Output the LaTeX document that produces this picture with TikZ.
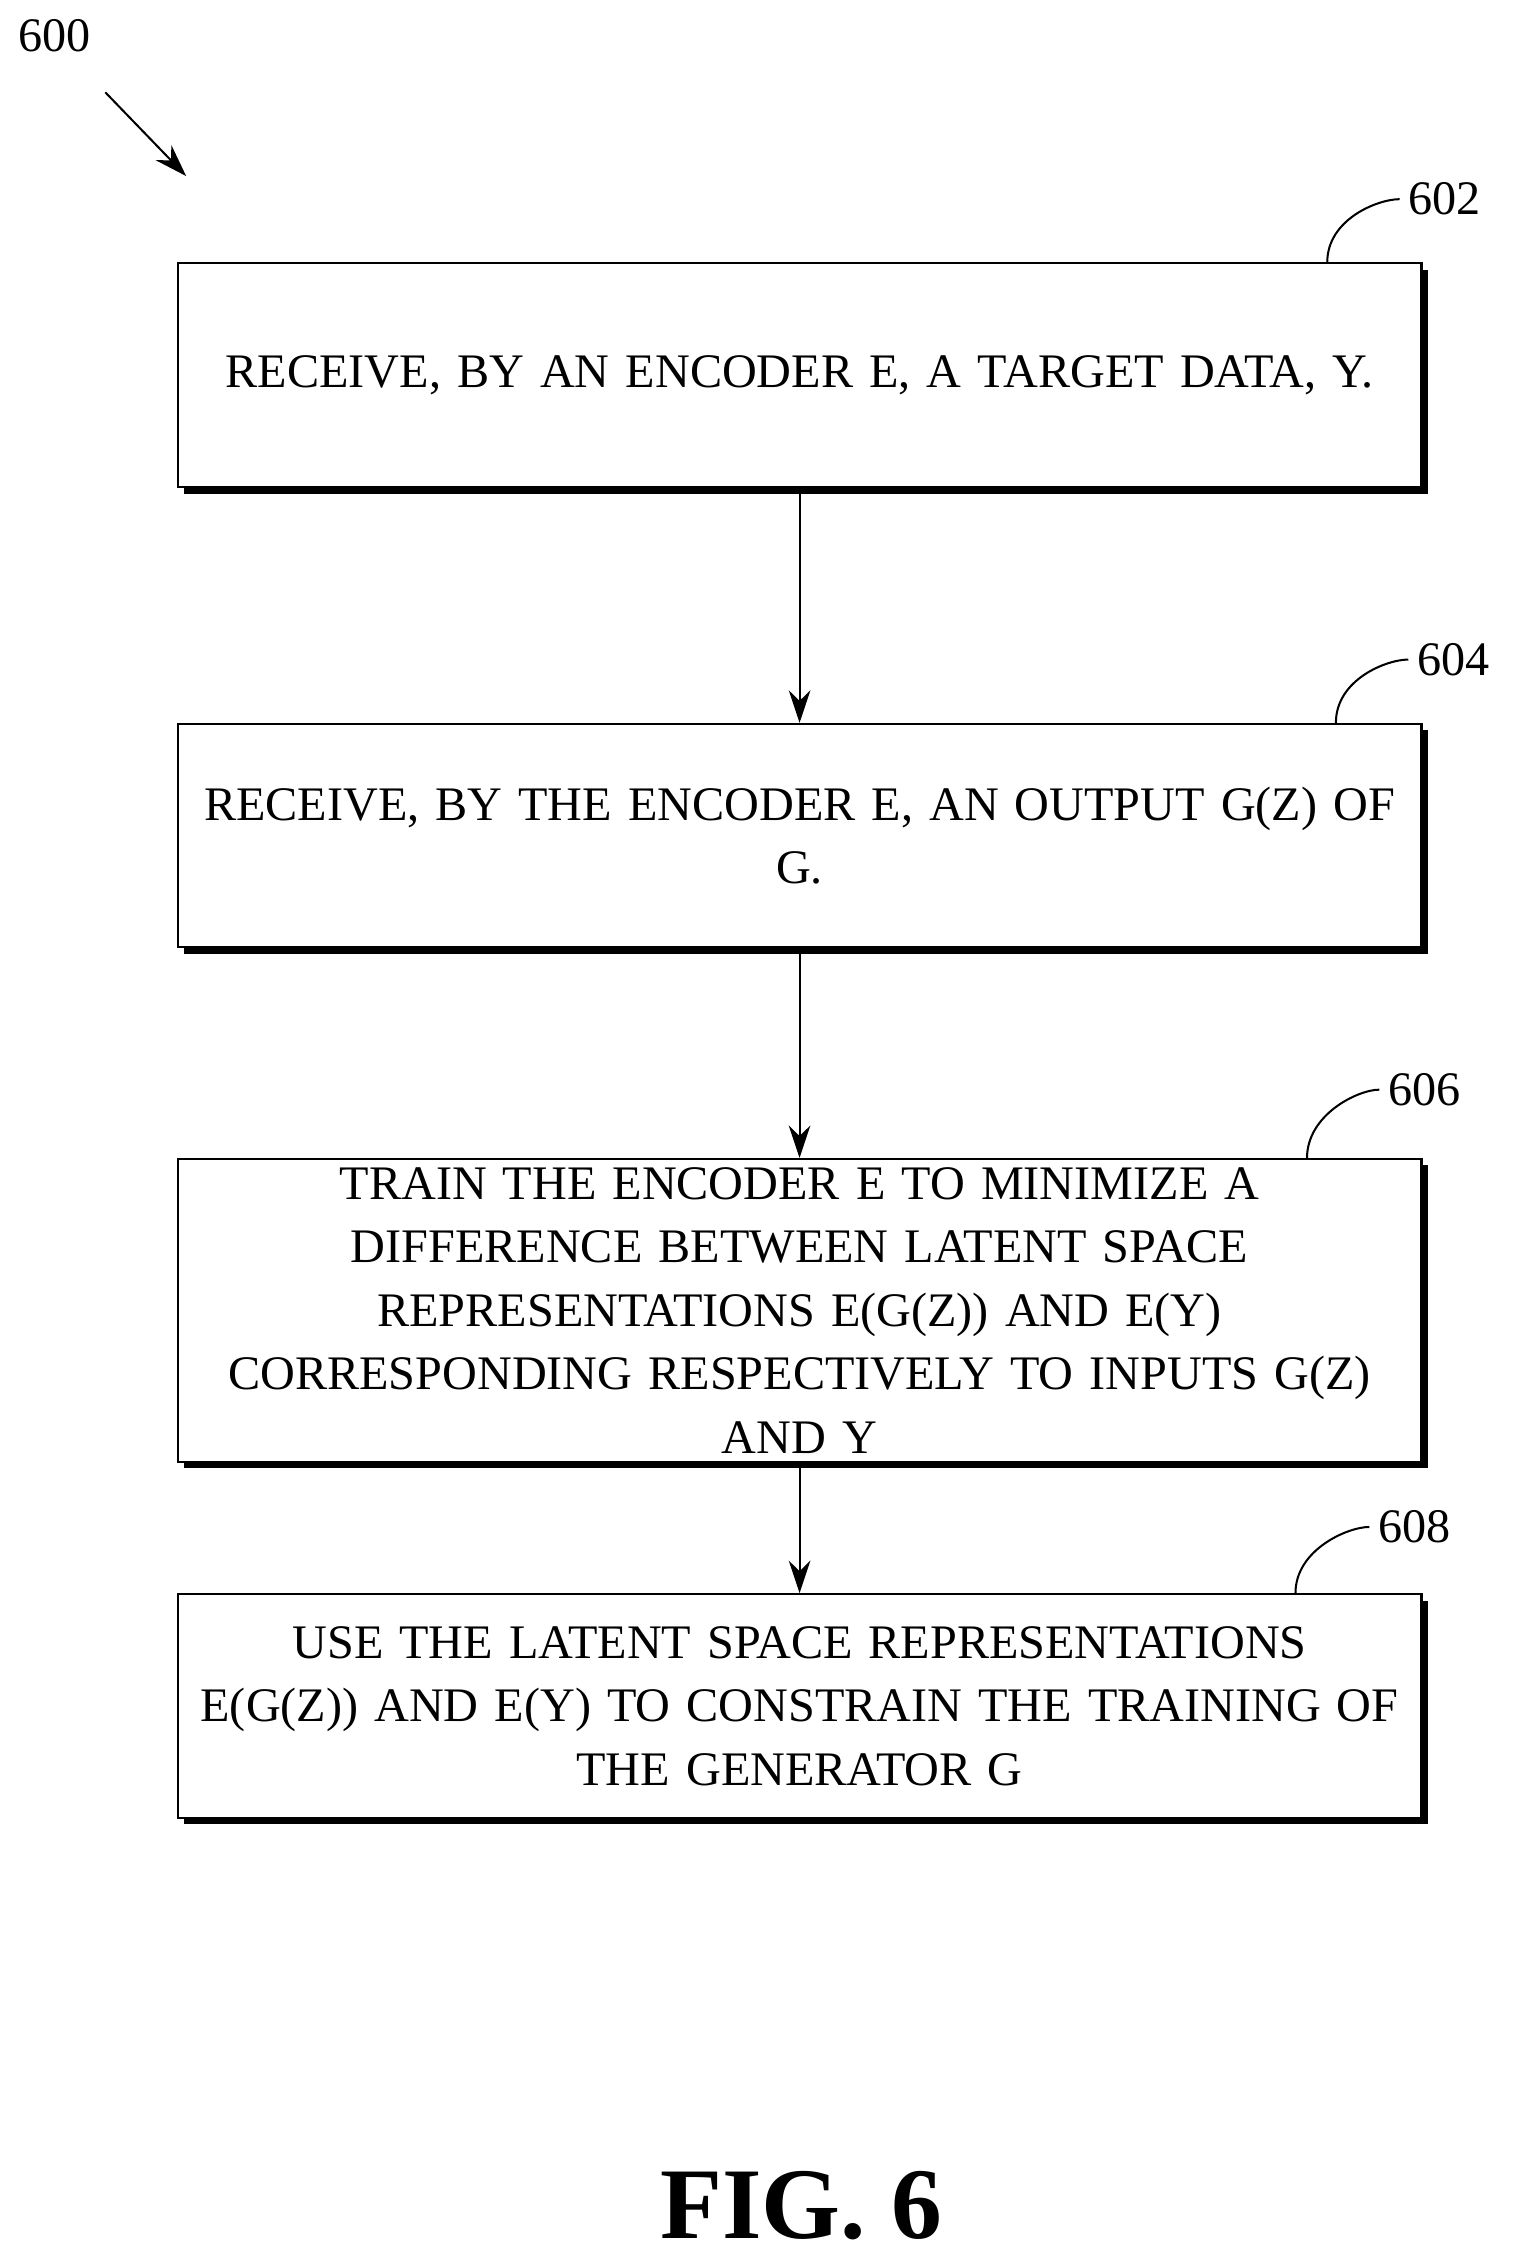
\documentclass[tikz,border=0pt]{standalone}
\usepackage{fontspec}
\setmainfont{Liberation Serif}
\usetikzlibrary{positioning,arrows.meta,shadows}

\begin{document}
\begin{tikzpicture}[->,>={Stealth[length=0.45cm,width=0.3cm]},x=0.02cm,y=-0.02cm,
  stepbox/.style={draw,thick,fill=white,minimum width=17.24cm,text width=17cm,align=center,
    font=\fontsize{19}{25}\selectfont,
    drop shadow={shadow xshift=0.09cm,shadow yshift=-0.09cm,fill=black,opacity=1}},
  tag/.style={font=\fontsize{19}{23}\selectfont}]
\useasboundingbox (0,0) rectangle (1048,1568);

\node [tag] (n600) at (38,25) {600};
\coordinate (a0) at (73,64);
\coordinate (a1) at (129,122);
\draw [thick] (a0) -- (a1);

\node [stepbox,minimum height=3.1cm] (s602) at (554,260) {RECEIVE, BY AN ENCODER E, A TARGET DATA, Y.};
\node [stepbox,minimum height=3.1cm] (s604) at (554,579) {RECEIVE, BY THE ENCODER E, AN OUTPUT G(Z) OF\\G.};
\node [stepbox,minimum height=4.2cm] (s606) at (554,908) {TRAIN THE ENCODER E TO MINIMIZE A\\DIFFERENCE BETWEEN LATENT SPACE\\REPRESENTATIONS E(G(Z)) AND E(Y)\\CORRESPONDING RESPECTIVELY TO INPUTS G(Z)\\AND Y};
\node [stepbox,minimum height=3.1cm] (s608) at (554,1182) {USE THE LATENT SPACE REPRESENTATIONS\\E(G(Z)) AND E(Y) TO CONSTRAIN THE TRAINING OF\\THE GENERATOR G};

\path (s602) edge [thick] (s604);
\path (s604) edge [thick] (s606);
\path (s606) edge [thick] (s608);

%reference numbers
\node [tag] (n602) at (1001,138) {602};
\node [tag] (n604) at (1007,457) {604};
\node [tag] (n606) at (987,755) {606};
\node [tag] (n608) at (980,1058) {608};
\draw [-,thick] (s602.north east) ++(-66,0) .. controls +(0,-30) and +(-15,0) .. (n602.west);
\draw [-,thick] (s604.north east) ++(-60,0) .. controls +(0,-30) and +(-15,0) .. (n604.west);
\draw [-,thick] (s606.north east) ++(-80,0) .. controls +(0,-30) and +(-15,0) .. (n606.west);
\draw [-,thick] (s608.north east) ++(-88,0) .. controls +(0,-30) and +(-15,0) .. (n608.west);

\node [font=\bfseries\fontsize{40}{46}\selectfont] (fig) at (555,1528) {FIG. 6};
\end{tikzpicture}
\end{document}
